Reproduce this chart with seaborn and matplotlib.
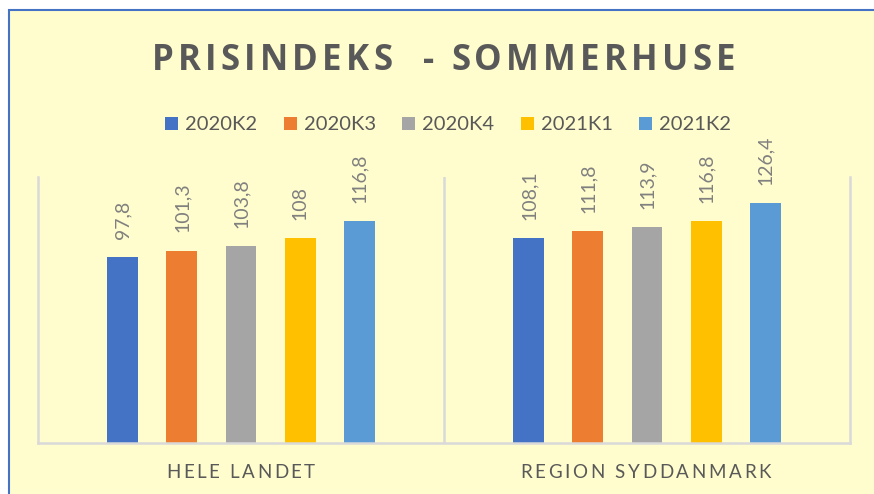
import matplotlib
matplotlib.use('Agg')
import matplotlib.pyplot as plt
from matplotlib.patches import Rectangle
import pandas as pd
import seaborn as sns

# DATA
regions = ['HELE LANDET', 'REGION SYDDANMARK']
quarters = ['2020K2', '2020K3', '2020K4', '2021K1', '2021K2']
hele_landet = [97.8, 101.3, 103.8, 108, 116.8]
region_syd = [108.1, 111.8, 113.9, 116.8, 126.4]
title = 'PRISINDEKS  - SOMMERHUSE'

colors = ['#4472C4', '#ED7D31', '#A5A5A5', '#FFC000', '#5B9BD5']
BG = '#FFFDCD'
TXT = '#595959'

rows = []
for q, a, b in zip(quarters, hele_landet, region_syd):
    rows.append({'region': regions[0], 'quarter': q, 'value': a})
    rows.append({'region': regions[1], 'quarter': q, 'value': b})
df = pd.DataFrame(rows)

sns.set_style('white')
plt.rcParams['font.family'] = ['Lato', 'DejaVu Sans']

W, H = 874, 494
fig = plt.figure(figsize=(W / 100, H / 100), dpi=100)
fig.patch.set_facecolor('white')
# yellow chart area with blue border (only top/left edges visible)
fig.add_artist(Rectangle((9 / W, -0.1), 1.0, (H - 10) / H + 0.1, transform=fig.transFigure,
                         facecolor=BG, edgecolor='#4472C4', lw=1.5, zorder=-5))

ax = fig.add_axes([38 / W, 51 / H, 812 / W, 266 / H])
ax.patch.set_alpha(0)

sns.barplot(data=df, x='region', y='value', hue='quarter', order=regions, hue_order=quarters,
            palette=colors, width=0.727, gap=0.475, linewidth=0, saturation=1, ax=ax)

handles, labels = ax.get_legend_handles_labels()
if ax.get_legend() is not None:
    ax.get_legend().remove()

# value labels, rotated like the original
for cont, q in zip(ax.containers, quarters):
    i = quarters.index(q)
    vals = [hele_landet[i], region_syd[i]]
    labs = [f'{v:g}'.replace('.', ',') for v in vals]
    ax.bar_label(cont, labels=labs, rotation=90, padding=13, color='#808080', fontsize=14)

ax.set_xlim(-0.5, 1.5)
ax.set_ylim(0, 140)
ax.set_yticks([])
ax.tick_params(axis='x', length=0, labelbottom=False)
ax.set_xlabel('')
ax.set_ylabel('')
for s in ['left', 'right', 'bottom']:
    ax.spines[s].set_color('#D9D9D9')
    ax.spines[s].set_linewidth(1.8)
ax.spines['top'].set_visible(False)
ax.axvline(0.5, color='#D9D9D9', lw=1.8)

fig.legend(handles, labels, loc='center', bbox_to_anchor=(448 / W, (H - 125) / H), ncol=5,
           frameon=False, handlelength=0.65, handleheight=0.65, handletextpad=0.35,
           columnspacing=1.3, fontsize=14.5, labelcolor=TXT)


# letter spaced text (Excel style)
def spaced_text(s, x_mid, y, width, **kw):
    r = fig.canvas.get_renderer()

    def w(t):
        tt = fig.text(0, 0, t, **kw)
        e = tt.get_window_extent(r).width
        tt.remove()
        return e

    base = w('||')
    widths = [w('|' + ch + '|') - base for ch in s]
    gap = (width - sum(widths)) / (len(s) - 1)
    x = x_mid - width / 2
    for ch, cw in zip(s, widths):
        fig.text(x / W, y, ch, ha='left', va='baseline', **kw)
        x += cw + gap


spaced_text(title, 443.5, (H - 70) / H, 583, fontsize=25, fontweight='bold',
            color=TXT, family=['Open Sans', 'DejaVu Sans'])
spaced_text(regions[0], 240.5, (H - 478) / H, 149, fontsize=13.5, color=TXT)
spaced_text(regions[1], 645.5, (H - 478) / H, 251, fontsize=13.5, color=TXT)

fig.savefig('out.png', dpi=100, facecolor=fig.get_facecolor())
